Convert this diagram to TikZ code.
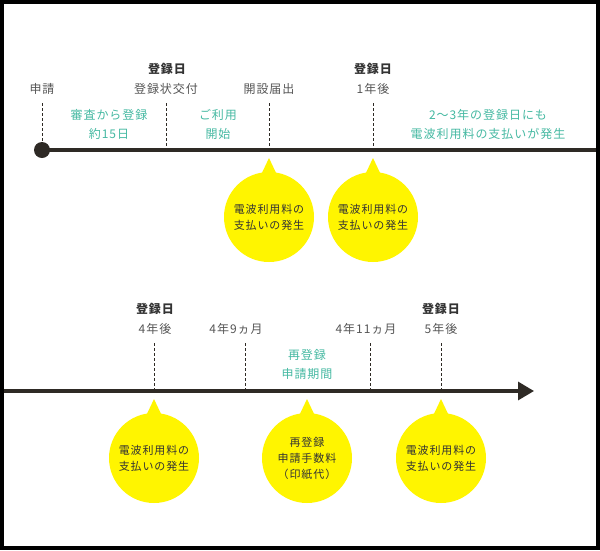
\documentclass[tikz,border=0pt]{standalone}
\usepackage{fontspec}
\setmainfont[LetterSpace=8]{Noto Sans CJK JP}
\usetikzlibrary{arrows.meta,calc}
\definecolor{lineC}{HTML}{2E2A25}
\definecolor{tealC}{HTML}{45B9A2}
\definecolor{grayC}{HTML}{555555}
\definecolor{darkC}{HTML}{333333}
\definecolor{bubC}{HTML}{FFF500}
\tikzset{
  timeline/.style={draw=lineC, line width=3.2pt},
  tick/.style={draw=lineC, line width=1pt, dash pattern=on 3pt off 2pt},
  lbl/.style={text=grayC, font=\fontsize{12}{14}\selectfont, inner sep=0},
  boldlbl/.style={text=darkC, font=\fontsize{12}{14}\selectfont\bfseries, inner sep=0},
  teal/.style={text=tealC, font=\fontsize{12}{19}\selectfont, align=center, inner sep=0},
  bubble/.style={circle, fill=bubC, minimum size=90pt, inner sep=0, align=center,
    text=darkC, font=\fontsize{11}{16}\selectfont},
}
\newcommand{\bubtip}[1]{\fill[bubC] ($(#1.center)+(-9,-40)$) -- ($(#1.center)+(0,-59)$) -- ($(#1.center)+(9,-40)$) -- cycle;}
\begin{document}
\begin{tikzpicture}[x=1pt,y=-1pt]
\fill[black] (0,0) rectangle (600,550);
\fill[white] (4,3.5) rectangle (596,546);
\useasboundingbox (0,0) rectangle (600,550);

% ---------- top timeline ----------
\node[circle, fill=lineC, minimum size=16pt, inner sep=0] (dot) at (42,150) {};
\coordinate (L1e) at (596,150);
\draw[timeline] (dot.center) -- (L1e);

\node[lbl] (shinsei) at (42,89) {申請};
\node[boldlbl] (tr1) at (167,69) {登録日};
\node[lbl] (koufu) at (166,89) {登録状交付};
\node[lbl] (kaisetsu) at (269,89) {開設届出};
\node[boldlbl] (tr2) at (373,69) {登録日};
\node[lbl] (y1) at (373,89) {1年後};

\foreach \n/\x in {a/42,b/166,c/269,d/373}{
  \coordinate (ta\n) at (\x,103);
  \coordinate (tb\n) at (\x,150);
  \draw[tick] (ta\n) -- (tb\n);
}

\node[teal] (shinsa) at (109,124.5) {審査から登録\\約15日};
\node[teal] (riyou) at (218,124.5) {ご利用\\開始};
\node[teal] (note) at (488,124.5) {2〜3年の登録日にも\\電波利用料の支払いが発生};

\node[bubble] (b1) at (269,217) {電波利用料の\\支払いの発生};
\bubtip{b1}
\node[bubble] (b2) at (373,217) {電波利用料の\\支払いの発生};
\bubtip{b2}

% ---------- bottom timeline ----------
\coordinate (L2s) at (4,391);
\coordinate (L2e) at (534,391);
\draw[timeline, -{Triangle[length=16pt,width=18pt]}] (L2s) -- (L2e);

\node[boldlbl] (tr3) at (155,309) {登録日};
\node[lbl] (y4) at (155,329) {4年後};
\node[lbl] (m9) at (236,329) {4年9ヵ月};
\node[lbl] (m11) at (366,329) {4年11ヵ月};
\node[boldlbl] (tr4) at (441,309) {登録日};
\node[lbl] (y5) at (441,329) {5年後};

\foreach \n/\x in {a/154,b/245,c/370,d/441}{
  \coordinate (ua\n) at (\x,343);
  \coordinate (ub\n) at (\x,391);
  \draw[tick] (ua\n) -- (ub\n);
}

\node[teal] (sai) at (307,364.5) {再登録\\申請期間};

\node[bubble] (b3) at (154,458) {電波利用料の\\支払いの発生};
\bubtip{b3}
\node[bubble] (b4) at (307,458) {再登録\\申請手数料\\（印紙代）};
\bubtip{b4}
\node[bubble] (b5) at (441,458) {電波利用料の\\支払いの発生};
\bubtip{b5}
\end{tikzpicture}
\end{document}
